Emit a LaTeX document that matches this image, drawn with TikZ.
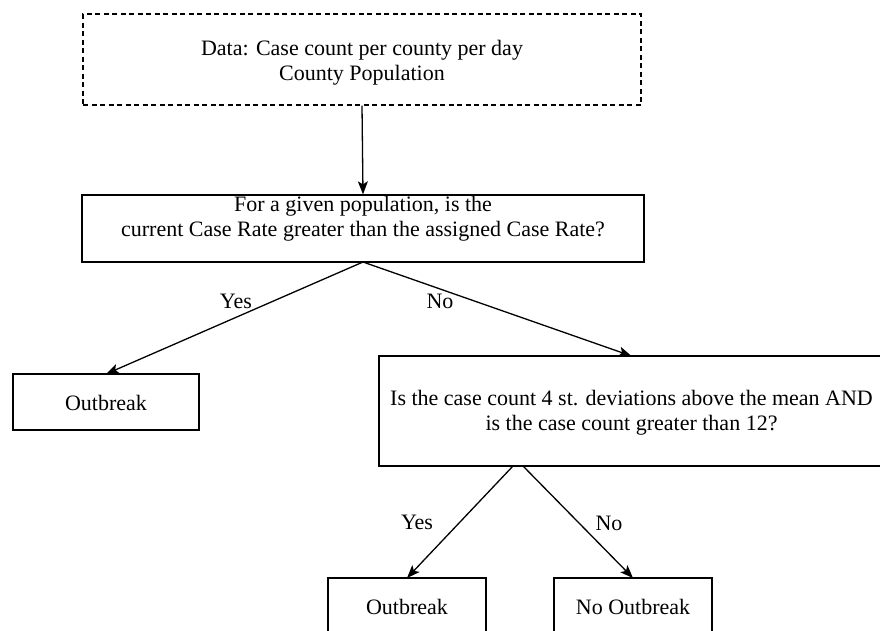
\documentclass[tikz,border=0pt]{standalone}
\usepackage{fontspec}
\setmainfont{Liberation Serif}
\usetikzlibrary{arrows.meta}
\begin{document}
\begin{tikzpicture}[x=1pt,y=-1pt,
  box/.style={draw=black,line width=1.3pt,fill=white,inner sep=0pt},
  dbox/.style={box,dash pattern=on 5pt off 3.5pt},
  txt/.style={align=center,inner sep=0pt,font=\fontsize{22}{25}\selectfont},
  lbl/.style={font=\fontsize{22}{25}\selectfont,inner sep=0pt},
  arr/.style={line width=1.3pt,-{Stealth[length=13pt,width=10pt,inset=3pt]}}]
\useasboundingbox (0,0) rectangle (880,630);
\clip (0,0) rectangle (880,630);
\node[dbox,minimum width=558pt,minimum height=91pt] (data) at (362,59.5) {};
\node[txt] (datat) at (362,62.5) {Data: Case count per county per day\\County Population};
\node[box,minimum width=562pt,minimum height=67pt] (q1) at (363,228.5) {};
\node[txt] (q1t) at (363,218.5) {For a given population, is the\\current Case Rate greater than the assigned Case Rate?};
\node[box,minimum width=186pt,minimum height=56pt] (out1) at (106,402) {};
\node[txt] (out1t) at (106,403) {Outbreak};
\node[box,minimum width=505pt,minimum height=110pt] (q2) at (631.5,411) {};
\node[txt] (q2t) at (631.5,412.5) {Is the case count 4 st. deviations above the mean AND\\is the case count greater than 12?};
\node[box,minimum width=158pt,minimum height=60pt] (out2) at (407,608) {};
\node[txt] (out2t) at (407,607) {Outbreak};
\node[box,minimum width=158pt,minimum height=60pt] (noout) at (633,608) {};
\node[txt] (noutt) at (633,607) {No Outbreak};
\coordinate (q1apex) at (363,262);
\coordinate (q2l) at (513,466);
\coordinate (q2r) at (523,466);
\draw[arr] (data.south) -- (q1.north);
\draw[arr] (q1apex) -- (108,374 -| out1.north);
\draw[arr] (q1apex) -- (630,356 -| q2.north);
\draw[arr] (q2l) -- (408,578 -| out2.north);
\draw[arr] (q2r) -- (630,578 -| noout.north);
\node[lbl] (yes1) at (236,301) {Yes};
\node[lbl] (no1) at (440,301) {No};
\node[lbl] (yes2) at (417,522) {Yes};
\node[lbl] (no2) at (609,523) {No};
\end{tikzpicture}
\end{document}
